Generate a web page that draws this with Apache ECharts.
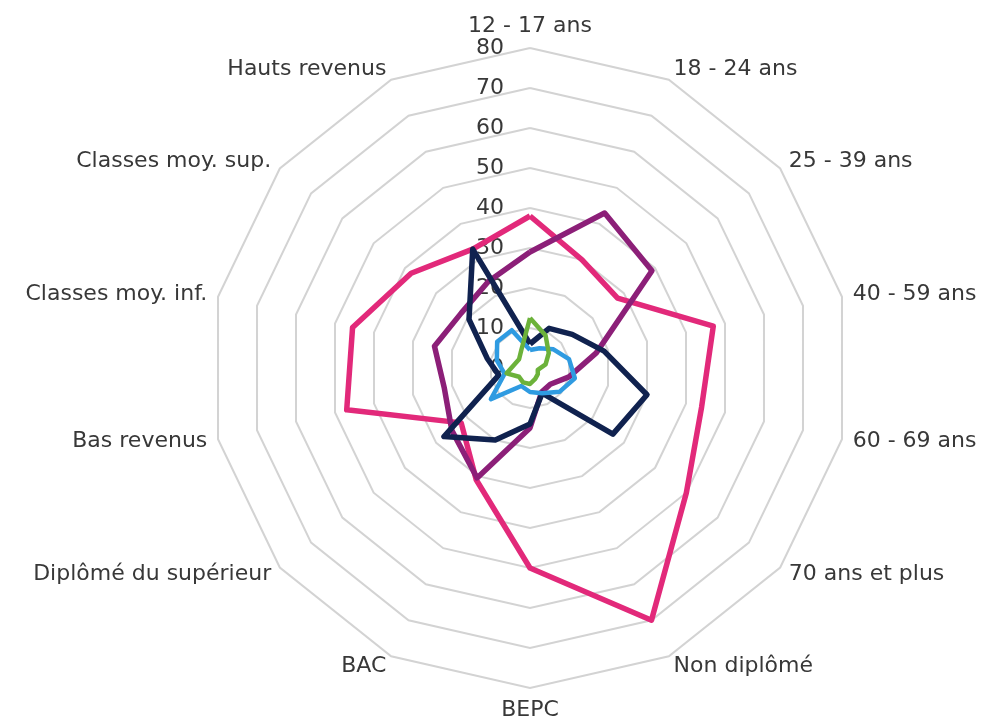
<!DOCTYPE html>
<html>
<head>
<meta charset="utf-8">
<script src="https://cdn.jsdelivr.net/npm/echarts@6/dist/echarts.min.js"></script>
<style>
  html, body { margin: 0; padding: 0; background: #fff; }
  #chart { width: 992px; height: 726px; }
</style>
</head>
<body>
<div id="chart"></div>
<script>
// categories listed clockwise from the top
const categories = [
  "12 - 17 ans", "18 - 24 ans", "25 - 39 ans", "40 - 59 ans", "60 - 69 ans",
  "70 ans et plus", "Non diplômé", "BEPC", "BAC", "Diplômé du supérieur",
  "Bas revenus", "Classes moy. inf.", "Classes moy. sup.", "Hauts revenus"
];
const tickValues = [0, 10, 20, 30, 40, 50, 60, 70, 80];

const pinkValues = [38, 30, 28, 47, 44, 50, 70, 50, 31, 22, 47, 45.5, 38, 33];
const purpleValues = [29, 43, 39, 17, 10, 6.5, 6.7, 15, 30.5, 25, 22, 24.5, 22, 24];
const navyValues = [6, 11, 13.5, 19, 30, 26.5, 7, 14, 20, 27.5, 8, 11, 19.5, 33];
const blueValues = [4.5, 5.5, 7.5, 10, 11.5, 9.5, 7, 6, 5, 12.5, 6.5, 8.5, 10.5, 10.5];
const greenValues = [12.5, 9, 6, 4, 2, 2.5, 3, 4, 4, 3.5, 6, 4, 3.5, 5];

// echarts lays radar axes counter-clockwise, so keep the first and reverse the rest
function clockwise(arr) {
  return [arr[0]].concat(arr.slice(1).reverse());
}

const font = "DejaVu Sans";
const textColor = "#383838";

const indicators = clockwise(categories).map((name, i) => {
  const ind = { name: name, min: 0, max: tickValues[tickValues.length - 1] };
  if (i === 0) {
    ind.axisLabel = { show: true };
  }
  return ind;
});

function line(name, values, color, width) {
  return {
    name: name,
    value: clockwise(values),
    symbol: "none",
    lineStyle: { color: color, width: width },
    itemStyle: { color: color }
  };
}

const chart = echarts.init(document.getElementById("chart"), null, { renderer: "canvas" });

chart.setOption({
  animation: false,
  backgroundColor: "#ffffff",
  radar: {
    center: [530, 368],
    radius: 320,
    shape: "polygon",
    splitNumber: tickValues.length - 1,
    indicator: indicators,
    axisName: {
      color: textColor,
      fontFamily: font,
      fontSize: 22
    },
    nameGap: 11,
    axisLine: { show: false },
    axisTick: { show: false },
    axisLabel: {
      show: false,
      color: textColor,
      fontFamily: font,
      fontSize: 22,
      margin: 26
    },
    splitLine: { lineStyle: { color: "#d3d3d3", width: 2 } },
    splitArea: { show: false }
  },
  series: [
    {
      type: "radar",
      silent: true,
      data: [
        line("Série 1", pinkValues, "#e2297a", 5.5),
        line("Série 2", purpleValues, "#8c1f78", 5.5),
        line("Série 3", navyValues, "#10224f", 5.5),
        line("Série 4", blueValues, "#2f9be1", 4.5),
        line("Série 5", greenValues, "#6cb23a", 4.5)
      ]
    }
  ]
});
</script>
</body>
</html>
